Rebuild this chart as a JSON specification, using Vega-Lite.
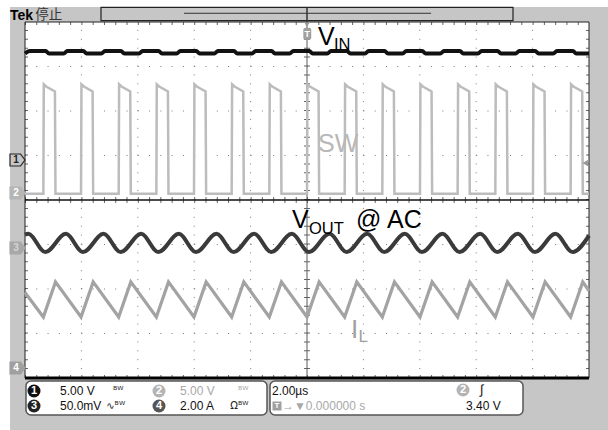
{
  "$schema": "https://vega.github.io/schema/vega-lite/v6.json",
  "width": 564,
  "height": 356,
  "autosize": {"type": "none"},
  "padding": {"left": 25, "top": 22, "right": 19, "bottom": 52},
  "background": "white",
  "config": {"view": {"stroke": null}},
  "resolve": {"scale": {"fill": "independent", "stroke": "independent", "color": "independent"}},
  "datasets": {
    "vin": [
      {"t": -10, "v": 3.29}, {"t": -9.834, "v": 3.35},
      {"t": -9.269, "v": 3.35}, {"t": -9.149, "v": 3.29}, {"t": -8.629, "v": 3.29}, {"t": -8.499, "v": 3.35},
      {"t": -7.933, "v": 3.35}, {"t": -7.813, "v": 3.29}, {"t": -7.293, "v": 3.29}, {"t": -7.163, "v": 3.35},
      {"t": -6.598, "v": 3.35}, {"t": -6.478, "v": 3.29}, {"t": -5.958, "v": 3.29}, {"t": -5.828, "v": 3.35},
      {"t": -5.262, "v": 3.35}, {"t": -5.142, "v": 3.29}, {"t": -4.622, "v": 3.29}, {"t": -4.492, "v": 3.35},
      {"t": -3.927, "v": 3.35}, {"t": -3.807, "v": 3.29}, {"t": -3.287, "v": 3.29}, {"t": -3.157, "v": 3.35},
      {"t": -2.591, "v": 3.35}, {"t": -2.471, "v": 3.29}, {"t": -1.951, "v": 3.29}, {"t": -1.821, "v": 3.35},
      {"t": -1.256, "v": 3.35}, {"t": -1.136, "v": 3.29}, {"t": -0.616, "v": 3.29}, {"t": -0.486, "v": 3.35},
      {"t": 0.08, "v": 3.35}, {"t": 0.2, "v": 3.29}, {"t": 0.72, "v": 3.29}, {"t": 0.85, "v": 3.35},
      {"t": 1.416, "v": 3.35}, {"t": 1.536, "v": 3.29}, {"t": 2.056, "v": 3.29}, {"t": 2.186, "v": 3.35},
      {"t": 2.751, "v": 3.35}, {"t": 2.871, "v": 3.29}, {"t": 3.391, "v": 3.29}, {"t": 3.521, "v": 3.35},
      {"t": 4.087, "v": 3.35}, {"t": 4.207, "v": 3.29}, {"t": 4.727, "v": 3.29}, {"t": 4.857, "v": 3.35},
      {"t": 5.422, "v": 3.35}, {"t": 5.542, "v": 3.29}, {"t": 6.062, "v": 3.29}, {"t": 6.192, "v": 3.35},
      {"t": 6.758, "v": 3.35}, {"t": 6.878, "v": 3.29}, {"t": 7.398, "v": 3.29}, {"t": 7.528, "v": 3.35},
      {"t": 8.093, "v": 3.35}, {"t": 8.213, "v": 3.29}, {"t": 8.733, "v": 3.29}, {"t": 8.863, "v": 3.35},
      {"t": 9.429, "v": 3.35}, {"t": 9.549, "v": 3.29}, {"t": 10, "v": 3.29}
    ],
    "sw": [
      {"t": -10, "v": 0.14},
      {"t": -9.349, "v": 0.14}, {"t": -9.334, "v": 2.6}, {"t": -9.249, "v": 2.55}, {"t": -8.939, "v": 2.44}, {"t": -8.919, "v": 0.14},
      {"t": -8.013, "v": 0.14}, {"t": -7.998, "v": 2.6}, {"t": -7.913, "v": 2.55}, {"t": -7.603, "v": 2.44}, {"t": -7.583, "v": 0.14},
      {"t": -6.678, "v": 0.14}, {"t": -6.663, "v": 2.6}, {"t": -6.578, "v": 2.55}, {"t": -6.268, "v": 2.44}, {"t": -6.248, "v": 0.14},
      {"t": -5.342, "v": 0.14}, {"t": -5.327, "v": 2.6}, {"t": -5.242, "v": 2.55}, {"t": -4.932, "v": 2.44}, {"t": -4.912, "v": 0.14},
      {"t": -4.007, "v": 0.14}, {"t": -3.992, "v": 2.6}, {"t": -3.907, "v": 2.55}, {"t": -3.597, "v": 2.44}, {"t": -3.577, "v": 0.14},
      {"t": -2.671, "v": 0.14}, {"t": -2.656, "v": 2.6}, {"t": -2.571, "v": 2.55}, {"t": -2.261, "v": 2.44}, {"t": -2.241, "v": 0.14},
      {"t": -1.336, "v": 0.14}, {"t": -1.321, "v": 2.6}, {"t": -1.236, "v": 2.55}, {"t": -0.926, "v": 2.44}, {"t": -0.906, "v": 0.14},
      {"t": 0, "v": 0.14}, {"t": 0.015, "v": 2.6}, {"t": 0.1, "v": 2.55}, {"t": 0.41, "v": 2.44}, {"t": 0.43, "v": 0.14},
      {"t": 1.336, "v": 0.14}, {"t": 1.351, "v": 2.6}, {"t": 1.436, "v": 2.55}, {"t": 1.746, "v": 2.44}, {"t": 1.766, "v": 0.14},
      {"t": 2.671, "v": 0.14}, {"t": 2.686, "v": 2.6}, {"t": 2.771, "v": 2.55}, {"t": 3.081, "v": 2.44}, {"t": 3.101, "v": 0.14},
      {"t": 4.007, "v": 0.14}, {"t": 4.022, "v": 2.6}, {"t": 4.107, "v": 2.55}, {"t": 4.417, "v": 2.44}, {"t": 4.437, "v": 0.14},
      {"t": 5.342, "v": 0.14}, {"t": 5.357, "v": 2.6}, {"t": 5.442, "v": 2.55}, {"t": 5.752, "v": 2.44}, {"t": 5.772, "v": 0.14},
      {"t": 6.678, "v": 0.14}, {"t": 6.693, "v": 2.6}, {"t": 6.778, "v": 2.55}, {"t": 7.088, "v": 2.44}, {"t": 7.108, "v": 0.14},
      {"t": 8.013, "v": 0.14}, {"t": 8.028, "v": 2.6}, {"t": 8.113, "v": 2.55}, {"t": 8.423, "v": 2.44}, {"t": 8.443, "v": 0.14},
      {"t": 9.349, "v": 0.14}, {"t": 9.364, "v": 2.6}, {"t": 9.449, "v": 2.55}, {"t": 9.759, "v": 2.44}, {"t": 9.779, "v": 0.14},
      {"t": 10, "v": 0.14}
    ],
    "vout": [
      {"t": -10, "v": -0.78}, {"t": -9.884, "v": -0.76},
      {"t": -9.279, "v": -1.17}, {"t": -8.549, "v": -0.76},
      {"t": -7.943, "v": -1.17}, {"t": -7.213, "v": -0.76},
      {"t": -6.608, "v": -1.17}, {"t": -5.878, "v": -0.76},
      {"t": -5.272, "v": -1.17}, {"t": -4.542, "v": -0.76},
      {"t": -3.937, "v": -1.17}, {"t": -3.207, "v": -0.76},
      {"t": -2.601, "v": -1.17}, {"t": -1.871, "v": -0.76},
      {"t": -1.266, "v": -1.17}, {"t": -0.536, "v": -0.76},
      {"t": 0.07, "v": -1.17}, {"t": 0.8, "v": -0.76},
      {"t": 1.406, "v": -1.17}, {"t": 2.136, "v": -0.76},
      {"t": 2.741, "v": -1.17}, {"t": 3.471, "v": -0.76},
      {"t": 4.077, "v": -1.17}, {"t": 4.807, "v": -0.76},
      {"t": 5.412, "v": -1.17}, {"t": 6.142, "v": -0.76},
      {"t": 6.748, "v": -1.17}, {"t": 7.478, "v": -0.76},
      {"t": 8.083, "v": -1.17}, {"t": 8.813, "v": -0.76},
      {"t": 9.419, "v": -1.17}, {"t": 10, "v": -0.8}
    ],
    "il": [
      {"t": -10, "v": -2.08},
      {"t": -9.349, "v": -2.63}, {"t": -8.919, "v": -1.84},
      {"t": -8.013, "v": -2.63}, {"t": -7.583, "v": -1.84},
      {"t": -6.678, "v": -2.63}, {"t": -6.248, "v": -1.84},
      {"t": -5.342, "v": -2.63}, {"t": -4.912, "v": -1.84},
      {"t": -4.007, "v": -2.63}, {"t": -3.577, "v": -1.84},
      {"t": -2.671, "v": -2.63}, {"t": -2.241, "v": -1.84},
      {"t": -1.336, "v": -2.63}, {"t": -0.906, "v": -1.84},
      {"t": 0, "v": -2.63}, {"t": 0.43, "v": -1.84},
      {"t": 1.336, "v": -2.63}, {"t": 1.766, "v": -1.84},
      {"t": 2.671, "v": -2.63}, {"t": 3.101, "v": -1.84},
      {"t": 4.007, "v": -2.63}, {"t": 4.437, "v": -1.84},
      {"t": 5.342, "v": -2.63}, {"t": 5.772, "v": -1.84},
      {"t": 6.678, "v": -2.63}, {"t": 7.108, "v": -1.84},
      {"t": 8.013, "v": -2.63}, {"t": 8.443, "v": -1.84},
      {"t": 9.349, "v": -2.63}, {"t": 9.779, "v": -1.84},
      {"t": 10, "v": -2.04}
    ]
  },
  "layer": [
    {
      "data": {"values": [{}]},
      "mark": {"type": "rect", "fill": "#c6c6c6"},
      "encoding": {
        "x": {"datum": -10.53, "type": "quantitative", "scale": {"domain": [-10, 10], "nice": false, "zero": false}, "axis": null},
        "x2": {"datum": 10.7},
        "y": {"datum": 4.337, "type": "quantitative", "scale": {"domain": [-4, 4], "nice": false, "zero": false}, "axis": null},
        "y2": {"datum": -5.2}
      }
    },
    {
      "data": {"values": [{}]},
      "mark": {"type": "rect", "fill": "white"},
      "encoding": {
        "x": {"datum": -10, "type": "quantitative"},
        "x2": {"datum": 10},
        "y": {"datum": 4, "type": "quantitative"},
        "y2": {"datum": -4}
      }
    },
    {
      "data": {"values": [{"t": -8}, {"t": -6}, {"t": -4}, {"t": -2}, {"t": 2}, {"t": 4}, {"t": 6}, {"t": 8}]},
      "mark": {"type": "rule", "stroke": "#7a7a7a", "strokeWidth": 1, "strokeDash": [1, 7.9]},
      "encoding": {
        "x": {"field": "t", "type": "quantitative"},
        "y": {"datum": -4, "type": "quantitative"},
        "y2": {"datum": 4}
      }
    },
    {
      "data": {"values": [{"v": -3}, {"v": -2}, {"v": -1}, {"v": 1}, {"v": 2}, {"v": 3}]},
      "mark": {"type": "rule", "stroke": "#7a7a7a", "strokeWidth": 1, "strokeDash": [1, 10.28]},
      "encoding": {
        "y": {"field": "v", "type": "quantitative"},
        "x": {"datum": -10, "type": "quantitative"},
        "x2": {"datum": 10}
      }
    },
    {
      "data": {"values": [{}]},
      "mark": {"type": "rule", "stroke": "#666", "strokeWidth": 6, "strokeDash": [1, 10.28]},
      "encoding": {
        "y": {"datum": 0, "type": "quantitative"},
        "x": {"datum": -10, "type": "quantitative"},
        "x2": {"datum": 10}
      }
    },
    {
      "data": {"values": [{}]},
      "mark": {"type": "rule", "stroke": "#666", "strokeWidth": 6, "strokeDash": [1, 7.9]},
      "encoding": {
        "x": {"datum": 0, "type": "quantitative"},
        "y": {"datum": -4, "type": "quantitative"},
        "y2": {"datum": 4}
      }
    },
    {
      "data": {"values": [{"v": 3.966}, {"v": -3.966}]},
      "mark": {"type": "rule", "stroke": "#666", "strokeWidth": 3, "strokeDash": [1, 10.28]},
      "encoding": {
        "y": {"field": "v", "type": "quantitative"},
        "x": {"datum": -10, "type": "quantitative"},
        "x2": {"datum": 10}
      }
    },
    {
      "data": {"values": [{"t": -9.947}, {"t": 9.947}]},
      "mark": {"type": "rule", "stroke": "#666", "strokeWidth": 3, "strokeDash": [1, 7.9]},
      "encoding": {
        "x": {"field": "t", "type": "quantitative"},
        "y": {"datum": -4, "type": "quantitative"},
        "y2": {"datum": 4}
      }
    },
    {
      "data": {"values": [{}]},
      "mark": {"type": "rule", "stroke": "#5a5a5a", "strokeWidth": 1},
      "encoding": {
        "x": {"datum": 0, "type": "quantitative"},
        "y": {"datum": -4, "type": "quantitative"},
        "y2": {"datum": 4}
      }
    },
    {
      "data": {"values": [{}]},
      "mark": {"type": "rule", "stroke": "#111", "strokeWidth": 1.5},
      "encoding": {
        "y": {"datum": 0, "type": "quantitative"},
        "x": {"datum": -10, "type": "quantitative"},
        "x2": {"datum": 10}
      }
    },
    {
      "data": {"values": [{}]},
      "mark": {"type": "rect", "fillOpacity": 0, "stroke": "#222", "strokeWidth": 1},
      "encoding": {
        "x": {"datum": -10, "type": "quantitative"},
        "x2": {"datum": 10},
        "y": {"datum": 4, "type": "quantitative"},
        "y2": {"datum": -4}
      }
    },
    {
      "data": {"values": [{}]},
      "mark": {"type": "rule", "stroke": "#000", "strokeWidth": 3},
      "encoding": {
        "y": {"datum": -4, "type": "quantitative"},
        "x": {"datum": -10, "type": "quantitative"},
        "x2": {"datum": 10}
      }
    },
    {
      "data": {"name": "sw"},
      "mark": {"type": "line", "stroke": "#bcbcbc", "strokeWidth": 2.5, "strokeJoin": "miter"},
      "encoding": {
        "x": {"field": "t", "type": "quantitative"},
        "y": {"field": "v", "type": "quantitative"}
      }
    },
    {
      "data": {"name": "il"},
      "mark": {"type": "line", "stroke": "#a3a3a3", "strokeWidth": 3.2},
      "encoding": {
        "x": {"field": "t", "type": "quantitative"},
        "y": {"field": "v", "type": "quantitative"}
      }
    },
    {
      "data": {"name": "vout"},
      "mark": {"type": "line", "stroke": "#3a3a3a", "strokeWidth": 4, "interpolate": "monotone"},
      "encoding": {
        "x": {"field": "t", "type": "quantitative"},
        "y": {"field": "v", "type": "quantitative"}
      }
    },
    {
      "data": {"name": "vin"},
      "mark": {"type": "line", "stroke": "#111", "strokeWidth": 4, "interpolate": "monotone"},
      "encoding": {
        "x": {"field": "t", "type": "quantitative"},
        "y": {"field": "v", "type": "quantitative"}
      }
    },
    {
      "data": {"values": [{}]},
      "mark": {"type": "point", "shape": "triangle-left", "filled": true, "fill": "#9a9a9a", "size": 45, "opacity": 1},
      "encoding": {
        "x": {"datum": 9.87, "type": "quantitative"},
        "y": {"datum": 0.83, "type": "quantitative"}
      }
    },
    {
      "data": {"values": [{}]},
      "mark": {"type": "rect", "fill": "#c6c6c6", "stroke": "#222", "strokeWidth": 1.2},
      "encoding": {
        "x": {"datum": -7.305, "type": "quantitative"},
        "x2": {"datum": 7.305},
        "y": {"datum": 4.33, "type": "quantitative"},
        "y2": {"datum": 4.029}
      }
    },
    {
      "data": {"values": [{}]},
      "mark": {"type": "rule", "stroke": "#333", "strokeWidth": 1},
      "encoding": {
        "y": {"datum": 4.196, "type": "quantitative"},
        "x": {"datum": -4.36, "type": "quantitative"},
        "x2": {"datum": 4.4}
      }
    },
    {
      "data": {"values": [{}]},
      "mark": {"type": "rule", "stroke": "#333", "strokeWidth": 1.5},
      "encoding": {
        "x": {"datum": 0, "type": "quantitative"},
        "y": {"datum": 4.33, "type": "quantitative"},
        "y2": {"datum": 3.96}
      }
    },
    {
      "data": {"values": [{}]},
      "mark": {"type": "point", "shape": "triangle-down", "filled": true, "fill": "#9a9a9a", "size": 30, "opacity": 1},
      "encoding": {
        "x": {"datum": 0, "type": "quantitative"},
        "y": {"datum": 3.94, "type": "quantitative"}
      }
    },
    {
      "data": {"values": [{}]},
      "mark": {"type": "rect", "fill": "#a0a0a0", "cornerRadius": 2},
      "encoding": {
        "x": {"datum": -0.13, "type": "quantitative"},
        "x2": {"datum": 0.15},
        "y": {"datum": 3.87, "type": "quantitative"},
        "y2": {"datum": 3.6}
      }
    },
    {
      "data": {"values": [{"label": "T"}]},
      "mark": {"type": "text", "color": "white", "font": "Liberation Sans", "fontSize": 9, "fontWeight": "bold", "align": "center", "baseline": "middle"},
      "encoding": {
        "x": {"datum": 0.01, "type": "quantitative"},
        "y": {"datum": 3.735, "type": "quantitative"},
        "text": {"field": "label"}
      }
    },
    {
      "data": {"values": [{"label": "Tek"}]},
      "mark": {"type": "text", "color": "#000", "font": "Liberation Sans", "fontSize": 14, "fontWeight": "bold", "align": "left", "baseline": "alphabetic"},
      "encoding": {
        "x": {"datum": -10.53, "type": "quantitative"},
        "y": {"datum": 4.045, "type": "quantitative"},
        "text": {"field": "label"}
      }
    },
    {
      "data": {"values": [{"label": "停止"}]},
      "mark": {"type": "text", "color": "#333", "font": "Noto Sans CJK SC", "fontSize": 13.5, "align": "left", "baseline": "alphabetic"},
      "encoding": {
        "x": {"datum": -9.64, "type": "quantitative"},
        "y": {"datum": 4.06, "type": "quantitative"},
        "text": {"field": "label"}
      }
    },
    {
      "data": {"values": [{"t": 0.39, "v": 3.483, "label": "V"}, {"t": -0.532, "v": -0.629, "label": "V"}, {"t": 1.738, "v": -0.629, "label": "@ AC"}]},
      "mark": {"type": "text", "color": "#000", "font": "Liberation Sans", "fontSize": 25, "align": "left", "baseline": "alphabetic"},
      "encoding": {
        "x": {"field": "t", "type": "quantitative"},
        "y": {"field": "v", "type": "quantitative"},
        "text": {"field": "label"}
      }
    },
    {
      "data": {"values": [{"t": 0.957, "v": 3.371, "label": "IN"}, {"t": 0.071, "v": -0.764, "label": "OUT"}]},
      "mark": {"type": "text", "color": "#000", "font": "Liberation Sans", "fontSize": 16.5, "align": "left", "baseline": "alphabetic"},
      "encoding": {
        "x": {"field": "t", "type": "quantitative"},
        "y": {"field": "v", "type": "quantitative"},
        "text": {"field": "label"}
      }
    },
    {
      "data": {"values": [{"t": 0.39, "v": 1.079, "label": "SW"}]},
      "mark": {"type": "text", "color": "#b8b8b8", "font": "Liberation Sans", "fontSize": 25, "align": "left", "baseline": "alphabetic"},
      "encoding": {
        "x": {"field": "t", "type": "quantitative"},
        "y": {"field": "v", "type": "quantitative"},
        "text": {"field": "label"}
      }
    },
    {
      "data": {"values": [{"t": 1.56, "v": -3.101, "label": "I"}]},
      "mark": {"type": "text", "color": "#a0a0a0", "font": "Liberation Sans", "fontSize": 26, "align": "left", "baseline": "alphabetic"},
      "encoding": {
        "x": {"field": "t", "type": "quantitative"},
        "y": {"field": "v", "type": "quantitative"},
        "text": {"field": "label"}
      }
    },
    {
      "data": {"values": [{"t": 1.83, "v": -3.191, "label": "L"}]},
      "mark": {"type": "text", "color": "#a0a0a0", "font": "Liberation Sans", "fontSize": 17, "align": "left", "baseline": "alphabetic"},
      "encoding": {
        "x": {"field": "t", "type": "quantitative"},
        "y": {"field": "v", "type": "quantitative"},
        "text": {"field": "label"}
      }
    },
    {
      "data": {"values": [{"ch": "1", "v": 0.899}, {"ch": "2", "v": 0.157}, {"ch": "3", "v": -1.079}, {"ch": "4", "v": -3.775}]},
      "mark": {"type": "point", "shape": "M-1,-0.8L0.4,-0.8L1,0L0.4,0.8L-1,0.8Z", "filled": true, "size": 225, "strokeWidth": 1.2, "opacity": 1},
      "encoding": {
        "x": {"datum": -10.266, "type": "quantitative"},
        "y": {"field": "v", "type": "quantitative"},
        "fill": {"field": "ch", "type": "nominal", "scale": {"domain": ["1", "2", "3", "4"], "range": ["#c6c6c6", "#b6b6b6", "#a8a8a8", "#a0a0a0"]}, "legend": null},
        "stroke": {"field": "ch", "type": "nominal", "scale": {"domain": ["1", "2", "3", "4"], "range": ["#222", "#b6b6b6", "#a8a8a8", "#a0a0a0"]}, "legend": null}
      }
    },
    {
      "data": {"values": [{"ch": "1", "v": 0.899}, {"ch": "2", "v": 0.157}, {"ch": "3", "v": -1.079}, {"ch": "4", "v": -3.775}]},
      "mark": {"type": "text", "font": "Liberation Sans", "fontSize": 10, "fontWeight": "bold", "align": "center", "baseline": "middle"},
      "encoding": {
        "x": {"datum": -10.32, "type": "quantitative"},
        "y": {"field": "v", "type": "quantitative"},
        "text": {"field": "ch"},
        "color": {"field": "ch", "type": "nominal", "scale": {"domain": ["1", "2", "3", "4"], "range": ["#222", "#ffffff", "#d4d4d4", "#ffffff"]}, "legend": null}
      }
    },
    {
      "data": {"values": [{"t": -9.965, "t2": -1.418}, {"t": -1.312, "t2": 7.66}]},
      "mark": {"type": "rect", "fill": "white", "stroke": "#555", "strokeWidth": 1.5, "cornerRadius": 5},
      "encoding": {
        "x": {"field": "t", "type": "quantitative"},
        "x2": {"field": "t2"},
        "y": {"datum": -4.067, "type": "quantitative"},
        "y2": {"datum": -4.831}
      }
    },
    {
      "data": {"values": [{"ch": "1", "t": -9.681, "v": -4.292}, {"ch": "3", "t": -9.681, "v": -4.629}, {"ch": "2", "t": -5.248, "v": -4.292}, {"ch": "4", "t": -5.248, "v": -4.629}, {"ch": "2", "t": 5.532, "v": -4.27}]},
      "mark": {"type": "point", "shape": "circle", "filled": true, "size": 169, "opacity": 1},
      "encoding": {
        "x": {"field": "t", "type": "quantitative"},
        "y": {"field": "v", "type": "quantitative"},
        "fill": {"field": "ch", "type": "nominal", "scale": {"domain": ["1", "2", "3", "4"], "range": ["#111", "#b4b4b4", "#222", "#555"]}, "legend": null}
      }
    },
    {
      "data": {"values": [{"ch": "1", "t": -9.681, "v": -4.292}, {"ch": "3", "t": -9.681, "v": -4.629}, {"ch": "2", "t": -5.248, "v": -4.292}, {"ch": "4", "t": -5.248, "v": -4.629}, {"ch": "2", "t": 5.532, "v": -4.27}]},
      "mark": {"type": "text", "color": "white", "font": "Liberation Sans", "fontSize": 11, "fontWeight": "bold", "align": "center", "baseline": "middle"},
      "encoding": {
        "x": {"field": "t", "type": "quantitative"},
        "y": {"field": "v", "type": "quantitative"},
        "text": {"field": "ch"}
      }
    },
    {
      "data": {"values": [{"t": -8.759, "v": -4.292, "label": "5.00 V"}, {"t": -8.759, "v": -4.629, "label": "50.0mV"}, {"t": -4.504, "v": -4.629, "label": "2.00 A"}, {"t": -1.241, "v": -4.292, "label": "2.00µs"}, {"t": 5.638, "v": -4.629, "label": "3.40 V"}]},
      "mark": {"type": "text", "color": "#111", "font": "Liberation Sans", "fontSize": 12, "align": "left", "baseline": "middle"},
      "encoding": {
        "x": {"field": "t", "type": "quantitative"},
        "y": {"field": "v", "type": "quantitative"},
        "text": {"field": "label"}
      }
    },
    {
      "data": {"values": [{"t": -4.504, "v": -4.292, "label": "5.00 V"}, {"t": -0.887, "v": -4.629, "label": "→▼0.000000 s"}]},
      "mark": {"type": "text", "color": "#a8a8a8", "font": "Liberation Sans", "fontSize": 12, "align": "left", "baseline": "middle"},
      "encoding": {
        "x": {"field": "t", "type": "quantitative"},
        "y": {"field": "v", "type": "quantitative"},
        "text": {"field": "label"}
      }
    },
    {
      "data": {"values": [{"t": -6.879, "v": -4.292, "label": "ᴮᵂ"}, {"t": -7.12, "v": -4.629, "label": "∿ᴮᵂ"}, {"t": -2.72, "v": -4.629, "label": "Ωᴮᵂ"}]},
      "mark": {"type": "text", "color": "#222", "font": "DejaVu Sans", "fontSize": 10, "align": "left", "baseline": "middle"},
      "encoding": {
        "x": {"field": "t", "type": "quantitative"},
        "y": {"field": "v", "type": "quantitative"},
        "text": {"field": "label"}
      }
    },
    {
      "data": {"values": [{"t": -2.447, "v": -4.292, "label": "ᴮᵂ"}]},
      "mark": {"type": "text", "color": "#a8a8a8", "font": "DejaVu Sans", "fontSize": 10, "align": "left", "baseline": "middle"},
      "encoding": {
        "x": {"field": "t", "type": "quantitative"},
        "y": {"field": "v", "type": "quantitative"},
        "text": {"field": "label"}
      }
    },
    {
      "data": {"values": [{"t": 6.135, "v": -4.27, "label": "∫"}]},
      "mark": {"type": "text", "color": "#111", "font": "Liberation Sans", "fontSize": 13, "align": "left", "baseline": "middle"},
      "encoding": {
        "x": {"field": "t", "type": "quantitative"},
        "y": {"field": "v", "type": "quantitative"},
        "text": {"field": "label"}
      }
    },
    {
      "data": {"values": [{}]},
      "mark": {"type": "point", "shape": "square", "filled": true, "fill": "#a0a0a0", "size": 81, "opacity": 1},
      "encoding": {
        "x": {"datum": -1.064, "type": "quantitative"},
        "y": {"datum": -4.629, "type": "quantitative"}
      }
    },
    {
      "data": {"values": [{"label": "T"}]},
      "mark": {"type": "text", "color": "white", "font": "Liberation Sans", "fontSize": 8, "fontWeight": "bold", "align": "center", "baseline": "middle"},
      "encoding": {
        "x": {"datum": -1.064, "type": "quantitative"},
        "y": {"datum": -4.629, "type": "quantitative"},
        "text": {"field": "label"}
      }
    }
  ]
}
